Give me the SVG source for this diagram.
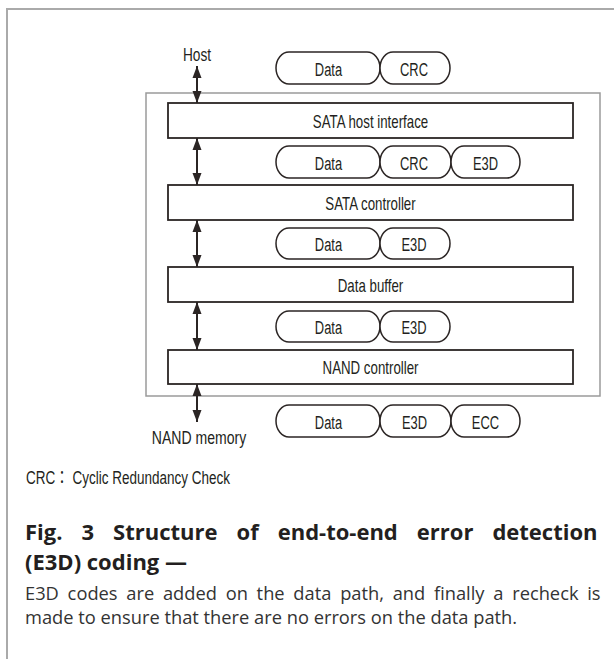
<svg xmlns="http://www.w3.org/2000/svg" width="615" height="659" viewBox="0 0 615 659">
<defs>
<style>
.frame{fill:none;stroke:#aaaaaa;stroke-width:2}
.inner{fill:none;stroke:#9a9a9a;stroke-width:1.5}
.blk{fill:#fff;stroke:#2b2524;stroke-width:1.8}
.pill{fill:#fff;stroke:#2b2524;stroke-width:1.5}
.lbl{font-family:"Liberation Sans","Arial",sans-serif;font-size:19px;fill:#231f20;text-anchor:middle}
.note{font-family:"Liberation Sans","Noto Sans CJK JP",sans-serif;font-size:18.5px;fill:#231f20}
.title{font-family:"Open Sans","Noto Sans",sans-serif;font-weight:bold;font-size:22px;fill:#231f20}
.body{font-family:"Open Sans","Noto Sans",sans-serif;font-size:18.3px;fill:#333}
.arr{stroke:#2b2524;stroke-width:2;fill:none;marker-start:url(#ah);marker-end:url(#ah)}
</style>
<marker id="ah" markerUnits="userSpaceOnUse" markerWidth="13" markerHeight="10" refX="12" refY="5" orient="auto-start-reverse">
<path d="M0,0.5 L12,5 L0,9.5 z" fill="#2b2524"/>
</marker>
</defs>
<path class="frame" d="M7,659 V9 H614"/>
<rect class="inner" x="146" y="93" width="454" height="303"/>

<g id="connectors">
<line class="arr" x1="197" y1="66" x2="197" y2="103"/>
<line class="arr" x1="197" y1="138" x2="197" y2="185"/>
<line class="arr" x1="197" y1="220" x2="197" y2="267"/>
<line class="arr" x1="197" y1="302" x2="197" y2="350"/>
<line class="arr" x1="197" y1="384" x2="197" y2="422"/>
</g>

<g id="host"><text class="lbl" transform="translate(197,61) scale(0.72,1)">Host</text></g>
<g id="nand-memory"><text class="lbl" transform="translate(199,444) scale(0.74,1)">NAND memory</text></g>

<g id="sata-host-interface">
<rect class="blk" x="168" y="103" width="405" height="35"/>
<text class="lbl" transform="translate(370.5,127.5) scale(0.7,1)">SATA host interface</text>
</g>
<g id="sata-controller">
<rect class="blk" x="168" y="185" width="405" height="35"/>
<text class="lbl" transform="translate(370.5,209.5) scale(0.7,1)">SATA controller</text>
</g>
<g id="data-buffer">
<rect class="blk" x="168" y="267" width="405" height="35"/>
<text class="lbl" transform="translate(370.5,291.5) scale(0.7,1)">Data buffer</text>
</g>
<g id="nand-controller">
<rect class="blk" x="168" y="350" width="405" height="34"/>
<text class="lbl" transform="translate(370.5,374) scale(0.7,1)">NAND controller</text>
</g>

<g id="packet-host">
<path class="pill" d="M289,52 H367 A13,16 0 0 1 367,84 H289 A13,16 0 0 1 289,52 Z"/>
<path class="pill" d="M393,52 H437 A13,16 0 0 1 437,84 H393 A13,16 0 0 1 393,52 Z"/>
<text class="lbl" transform="translate(328.5,75.5) scale(0.68,1)">Data</text>
<text class="lbl" transform="translate(414,75.5) scale(0.68,1)">CRC</text>
</g>
<g id="packet-1">
<path class="pill" d="M289,146 H367 A13,16 0 0 1 367,178 H289 A13,16 0 0 1 289,146 Z"/>
<path class="pill" d="M393,146 H438 A13,16 0 0 1 438,178 H393 A13,16 0 0 1 393,146 Z"/>
<path class="pill" d="M464,146 H507 A13,16 0 0 1 507,178 H464 A13,16 0 0 1 464,146 Z"/>
<text class="lbl" transform="translate(328.5,169.5) scale(0.68,1)">Data</text>
<text class="lbl" transform="translate(414,169.5) scale(0.68,1)">CRC</text>
<text class="lbl" transform="translate(485.5,169.5) scale(0.68,1)">E3D</text>
</g>
<g id="packet-2">
<path class="pill" d="M289,228 H367 A13,15.5 0 0 1 367,259 H289 A13,15.5 0 0 1 289,228 Z"/>
<path class="pill" d="M393,228 H437 A13,15.5 0 0 1 437,259 H393 A13,15.5 0 0 1 393,228 Z"/>
<text class="lbl" transform="translate(328.5,250.5) scale(0.68,1)">Data</text>
<text class="lbl" transform="translate(414,250.5) scale(0.68,1)">E3D</text>
</g>
<g id="packet-3">
<path class="pill" d="M289,311 H367 A13,15.5 0 0 1 367,342 H289 A13,15.5 0 0 1 289,311 Z"/>
<path class="pill" d="M393,311 H437 A13,15.5 0 0 1 437,342 H393 A13,15.5 0 0 1 393,311 Z"/>
<text class="lbl" transform="translate(328.5,333.5) scale(0.68,1)">Data</text>
<text class="lbl" transform="translate(414,333.5) scale(0.68,1)">E3D</text>
</g>
<g id="packet-nand">
<path class="pill" d="M289,405 H367 A13,16 0 0 1 367,437 H289 A13,16 0 0 1 289,405 Z"/>
<path class="pill" d="M393,405 H438 A13,16 0 0 1 438,437 H393 A13,16 0 0 1 393,405 Z"/>
<path class="pill" d="M464,405 H507 A13,16 0 0 1 507,437 H464 A13,16 0 0 1 464,405 Z"/>
<text class="lbl" transform="translate(328.5,428.5) scale(0.68,1)">Data</text>
<text class="lbl" transform="translate(414.5,428.5) scale(0.68,1)">E3D</text>
<text class="lbl" transform="translate(485.5,428.5) scale(0.68,1)">ECC</text>
</g>

<text class="note" transform="translate(26,484) scale(0.73,1)">CRC： Cyclic Redundancy Check</text>

<text class="title" x="25" y="540" word-spacing="13.3">Fig. 3 Structure of end-to-end error detection</text>
<text class="title" x="25" y="570">(E3D) coding —</text>
<text class="body" x="25" y="600" word-spacing="4">E3D codes are added on the data path, and finally a recheck is</text>
<text class="body" x="25" y="624">made to ensure that there are no errors on the data path.</text>
</svg>
